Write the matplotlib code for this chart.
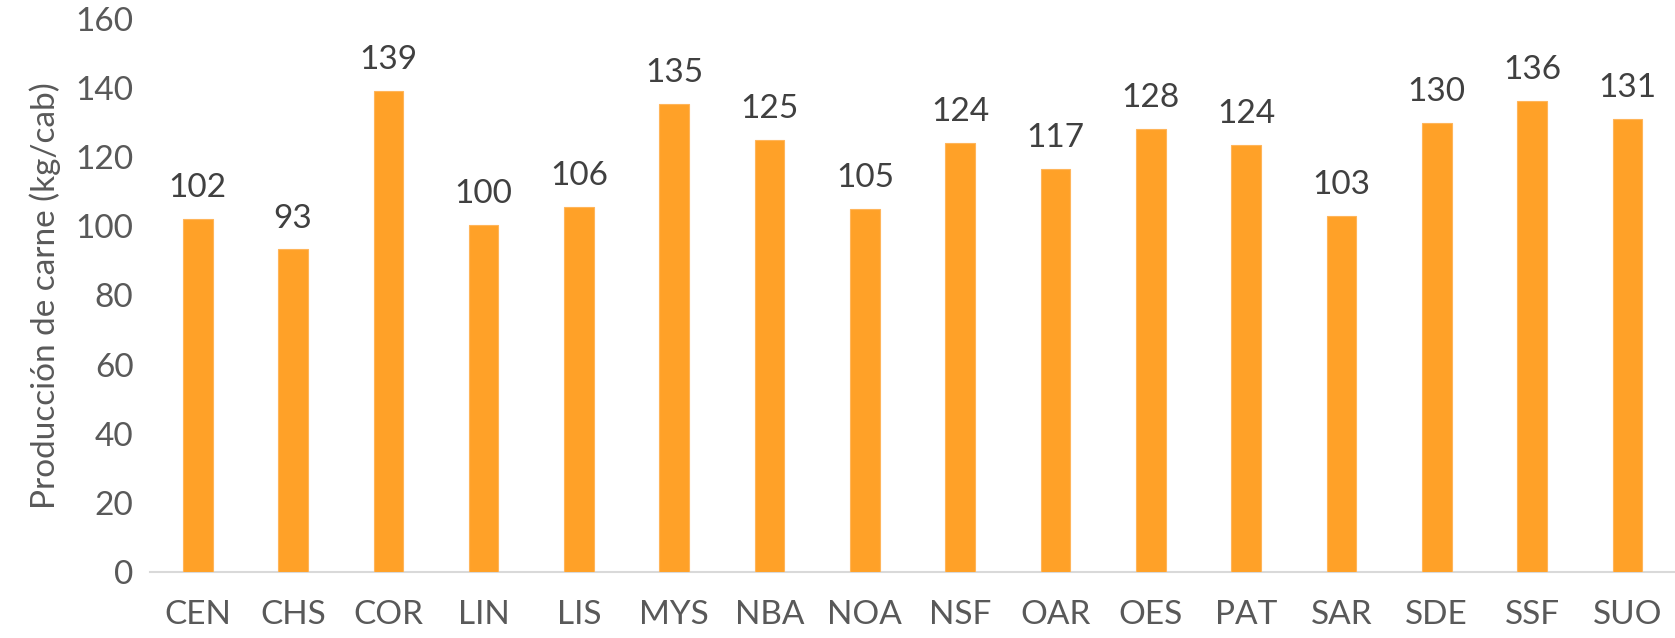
import matplotlib
matplotlib.use("Agg")
import matplotlib.pyplot as plt

categories = ["CEN", "CHS", "COR", "LIN", "LIS", "MYS", "NBA", "NOA",
              "NSF", "OAR", "OES", "PAT", "SAR", "SDE", "SSF", "SUO"]
values = [102.2, 93.3, 139.0, 100.3, 105.6, 135.2, 125.0, 104.9,
          124.0, 116.6, 128.2, 123.6, 103.1, 129.8, 136.2, 131.0]
yticks = [0, 20, 40, 60, 80, 100, 120, 140, 160]

plt.rcParams['font.family'] = ['Lato', 'DejaVu Sans']
txt = '#595959'
fig = plt.figure(figsize=(16.75, 6.38), dpi=100)
ax = fig.add_axes([0.0896, 0.1027, 0.9104, 0.8683])
x = range(len(categories))
bars = ax.bar(x, values, width=0.31, color='#FFA128', edgecolor='#FFB55A', linewidth=0.8, zorder=3)
for xi, v in zip(x, values):
    ax.text(xi, v + 4.6, f"{v:.0f}", ha='center', va='bottom', fontsize=24, color='#404040')
ax.set_xlim(-0.5, len(categories) - 0.5)
ax.set_ylim(0, 160)
ax.set_yticks(yticks)
ax.set_xticks(list(x))
ax.set_xticklabels(categories)
ax.tick_params(axis='both', length=0, labelsize=24, colors=txt)
ax.tick_params(axis='x', pad=20)
ax.tick_params(axis='y', pad=12)
for s in ['top', 'right', 'left']:
    ax.spines[s].set_visible(False)
ax.spines['bottom'].set_color('#D9D9D9')
ax.spines['bottom'].set_linewidth(1.5)
ax.set_ylabel("Producción de carne (kg/cab)", fontsize=24, color=txt, labelpad=10)
fig.savefig("out.png", dpi=100)
